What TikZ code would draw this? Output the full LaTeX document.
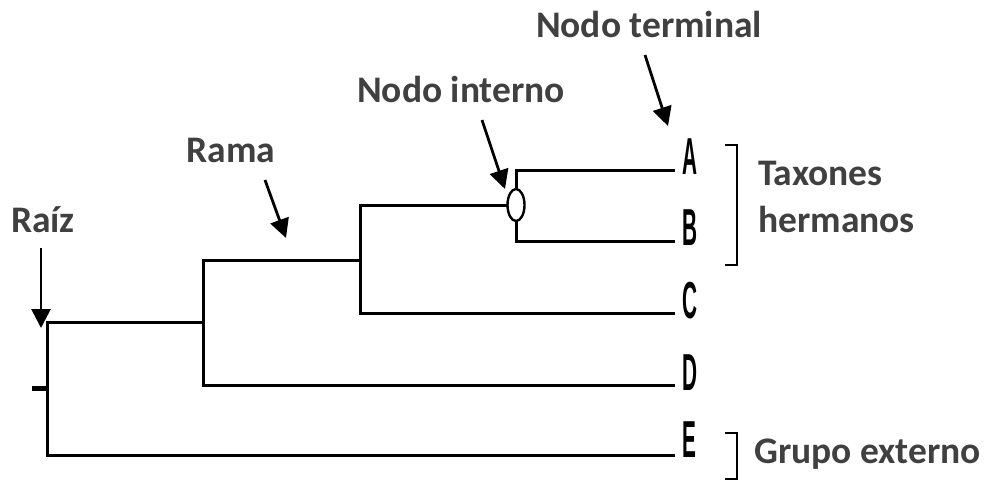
\documentclass[tikz,border=0pt]{standalone}
\usepackage{fontspec}
\setmainfont{Carlito}
\newfontfamily\leaffont{Liberation Sans}
\usetikzlibrary{arrows.meta,shapes.geometric}
\definecolor{labelgray}{RGB}{64,64,64}
\begin{document}
\begin{tikzpicture}[x=1pt,y=-1pt,
  branch/.style={line width=3pt,line cap=rect},
  pointer/.style={line width=2.8pt,-{Triangle[length=19pt,width=19pt]}},
  bracketline/.style={line width=2.4pt},
  caption/.style={font=\bfseries\fontsize{37.5}{40}\selectfont,text=labelgray,inner sep=0pt},
  leaf/.style={font=\leaffont\bfseries\fontsize{52}{52}\selectfont,inner sep=0pt,anchor=base west},
  innernode/.style={ellipse,draw,line width=2.4pt,fill=white,minimum width=17pt,minimum height=32pt,inner sep=0pt}
]
\useasboundingbox (0,0) rectangle (988,482);

% tree junctions
\coordinate (rootT) at (47,322);
\coordinate (rootB) at (47,455);
\coordinate (rootM) at (47,388);
\coordinate (tick)  at (32,388);
\coordinate (n2T) at (203,260);
\coordinate (n2M) at (203,322);
\coordinate (n2B) at (203,385);
\coordinate (n3T) at (360,205);
\coordinate (n3M) at (360,260);
\coordinate (n3B) at (360,313);
\coordinate (n4T) at (516,170);
\coordinate (n4B) at (516,241);

% leaf tips
\coordinate (tA) at (673,170);
\coordinate (tB) at (673,241);
\coordinate (tC) at (673,313);
\coordinate (tD) at (673,385);
\coordinate (tE) at (673,455);

% branches
\draw[branch] (rootT) -- (rootB);
\draw[line width=5pt] (tick) -- (rootM);
\draw[branch] (rootT) -- (n2M);
\draw[branch] (rootB) -- (tE);
\draw[branch] (n2T) -- (n2B);
\draw[branch] (n2B) -- (tD);
\draw[branch] (n2T) -- (n3M);
\draw[branch] (n3T) -- (n3B);
\draw[branch] (n3B) -- (tC);
\draw[branch] (n4T) -- (n4B);
\draw[branch] (n4T) -- (tA);
\draw[branch] (n4B) -- (tB);
\node[innernode] (n4) at (516,205) {};
\draw[branch] (n3T) -- (n4.west);

% leaf labels
\node[leaf] (A) at (682,174) {\scalebox{0.4}[1]{A}};
\node[leaf] (B) at (682,245) {\scalebox{0.4}[1]{B}};
\node[leaf] (C) at (682,318) {\scalebox{0.4}[1]{C}};
\node[leaf] (D) at (682,390) {\scalebox{0.4}[1]{D}};
\node[leaf] (E) at (682,457) {\scalebox{0.4}[1]{E}};

% captions
\node[caption,anchor=base] (lterm) at (649,37) {Nodo terminal};
\node[caption,anchor=base] (lint) at (461,102) {Nodo interno};
\node[caption,anchor=base] (lrama) at (231,162) {Rama};
\node[caption,anchor=base] (lraiz) at (43,232) {Raíz};
\node[caption,anchor=base west] (ltax) at (758,185) {Taxones};
\node[caption,anchor=base west] (lher) at (758,232) {hermanos};
\node[caption,anchor=base west] (lgrp) at (754,463) {Grupo externo};

% pointer arrows
\coordinate (pRaizS) at (41,248);   \coordinate (pRaizE) at (41,328);
\coordinate (pRamaS) at (265,180);  \coordinate (pRamaE) at (286,238);
\coordinate (pIntS)  at (482,120);  \coordinate (pIntE)  at (505,189);
\coordinate (pTermS) at (645,55);   \coordinate (pTermE) at (668,126);
\draw[pointer] (pRaizS) -- (pRaizE);
\draw[pointer] (pRamaS) -- (pRamaE);
\draw[pointer] (pIntS) -- (pIntE);
\draw[pointer] (pTermS) -- (pTermE);

% brackets
\coordinate (b1a) at (725,145); \coordinate (b1b) at (737,145);
\coordinate (b1c) at (737,265); \coordinate (b1d) at (725,265);
\draw[bracketline] (b1a) -- (b1b) -- (b1c) -- (b1d);
\coordinate (b2a) at (725,433); \coordinate (b2b) at (737,433);
\coordinate (b2c) at (737,479); \coordinate (b2d) at (725,479);
\draw[bracketline] (b2a) -- (b2b) -- (b2c) -- (b2d);
\end{tikzpicture}
\end{document}
